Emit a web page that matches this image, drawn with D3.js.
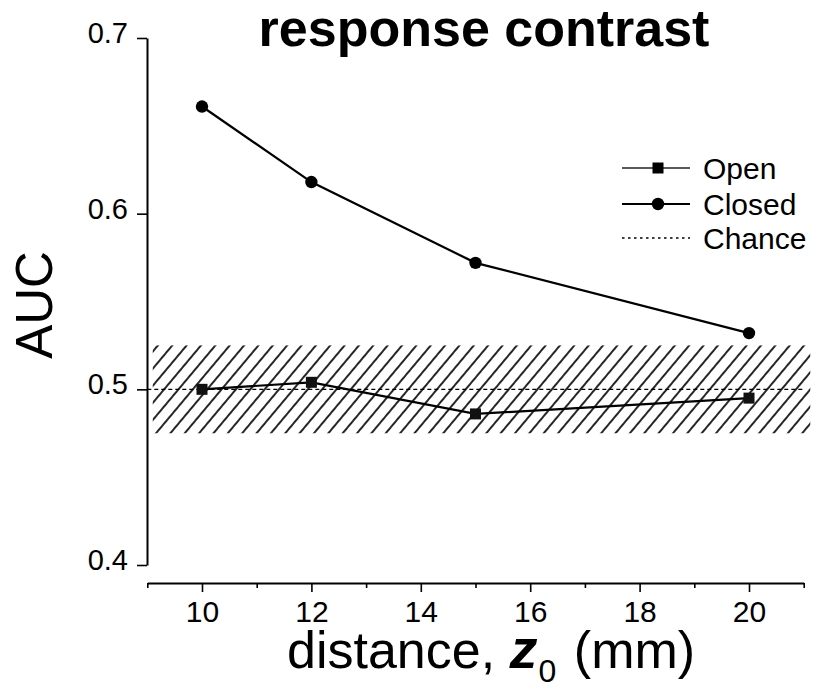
<!DOCTYPE html>
<html>
<head>
<meta charset="utf-8">
<script src="https://cdn.jsdelivr.net/npm/d3@7"></script>
<style>
  html, body { margin: 0; padding: 0; background: #fff; }
  svg { display: block; }
  text { font-family: "Liberation Sans", Arial, Helvetica, sans-serif; fill: #000; }
</style>
</head>
<body>
<svg id="chart" width="813" height="690"></svg>
<script>
// Source distance z0 (mm)
const distances = [10, 12, 15, 20];
// Area under ROC curve for each condition
const openAUC = [0.500, 0.504, 0.486, 0.495];
const closedAUC = [0.661, 0.618, 0.572, 0.532];
// Chance level and its confidence band
const chanceLevel = 0.5;
const chanceBand = [0.475, 0.525];
const chanceBandX = [9.1, 21.12];

const xMajorTicks = [10, 12, 14, 16, 18, 20];
const xMinorTicks = [9, 11, 13, 15, 17, 19, 21];
const yTicks = [0.4, 0.5, 0.6, 0.7];

const legendItems = ["Open", "Closed", "Chance"];

const svg = d3.select("#chart");

const x = d3.scaleLinear().domain([9, 21]).range([147.3, 803.7]);
const y = d3.scaleLinear().domain([0.4, 0.7]).range([565, 38]);
const xAxisY = 583;
const yAxisX = 147;

// Hatch pattern for the chance band
const defs = svg.append("defs");
const pat = defs.append("pattern")
  .attr("id", "hatch")
  .attr("patternUnits", "userSpaceOnUse")
  .attr("width", 11)
  .attr("height", 11)
  .attr("patternTransform", "rotate(40)");
pat.append("line")
  .attr("x1", 2).attr("y1", -1).attr("x2", 2).attr("y2", 12)
  .attr("stroke", "#000").attr("stroke-width", 1.7);

svg.append("rect")
  .attr("x", x(chanceBandX[0]))
  .attr("y", y(chanceBand[1]))
  .attr("width", x(chanceBandX[1]) - x(chanceBandX[0]))
  .attr("height", y(chanceBand[0]) - y(chanceBand[1]))
  .attr("fill", "url(#hatch)");

// Chance line
svg.append("line")
  .attr("x1", x(9)).attr("x2", x(21))
  .attr("y1", y(chanceLevel)).attr("y2", y(chanceLevel))
  .attr("stroke", "#000").attr("stroke-width", 1.4)
  .attr("stroke-dasharray", "4,3");

// Y axis
const yAxis = d3.axisLeft(y)
  .tickValues(yTicks)
  .tickFormat(d3.format(".1f"))
  .tickSize(10)
  .tickSizeOuter(0)
  .tickPadding(9);
const gy = svg.append("g")
  .attr("transform", `translate(${yAxisX},0)`)
  .call(yAxis);
gy.select(".domain").attr("stroke-width", 2);
gy.selectAll(".tick line").attr("stroke-width", 1.6);
gy.selectAll(".tick text")
  .attr("font-size", 29)
  .attr("dy", "0.16em")
  .style("font-family", "'Liberation Sans', Arial, sans-serif");

// X axis: minor ticks (no labels), then major ticks with labels
const xMinor = d3.axisBottom(x)
  .tickValues(xMinorTicks)
  .tickSize(5)
  .tickSizeOuter(0);
const gxm = svg.append("g")
  .attr("transform", `translate(0,${xAxisY})`)
  .call(xMinor);
gxm.selectAll(".tick text").remove();
gxm.select(".domain").attr("stroke-width", 2);
gxm.selectAll(".tick line").attr("stroke-width", 1.6);

const xMajor = d3.axisBottom(x)
  .tickValues(xMajorTicks)
  .tickSize(9)
  .tickSizeOuter(0)
  .tickPadding(9)
  .tickFormat(d3.format("d"));
const gx = svg.append("g")
  .attr("transform", `translate(0,${xAxisY})`)
  .call(xMajor);
gx.select(".domain").remove();
gx.selectAll(".tick line").attr("stroke-width", 1.6);
gx.selectAll(".tick text")
  .attr("font-size", 30)
  .style("font-family", "'Liberation Sans', Arial, sans-serif");

// Series lines
const line = d3.line().x(d => x(d[0])).y(d => y(d[1]));
const openPts = distances.map((d, i) => [d, openAUC[i]]);
const closedPts = distances.map((d, i) => [d, closedAUC[i]]);

svg.append("path").datum(openPts)
  .attr("d", line).attr("fill", "none")
  .attr("stroke", "#000").attr("stroke-width", 2.2);
svg.append("path").datum(closedPts)
  .attr("d", line).attr("fill", "none")
  .attr("stroke", "#000").attr("stroke-width", 2.2);

// Markers
const sq = 11;
svg.selectAll(".open-pt").data(openPts).enter().append("rect")
  .attr("class", "open-pt")
  .attr("x", d => x(d[0]) - sq / 2)
  .attr("y", d => y(d[1]) - sq / 2)
  .attr("width", sq).attr("height", sq)
  .attr("fill", "#111");
svg.selectAll(".closed-pt").data(closedPts).enter().append("circle")
  .attr("class", "closed-pt")
  .attr("cx", d => x(d[0]))
  .attr("cy", d => y(d[1]))
  .attr("r", 6.2)
  .attr("fill", "#000");

// Legend
const legY = [168, 204, 238];
const lx1 = 622, lx2 = 690, lmid = 658;
const leg = svg.append("g");
// Open
leg.append("line").attr("x1", lx1).attr("x2", lx2).attr("y1", legY[0]).attr("y2", legY[0])
  .attr("stroke", "#222").attr("stroke-width", 1.7);
leg.append("rect").attr("x", lmid - 5.5).attr("y", legY[0] - 5.5).attr("width", 11).attr("height", 11)
  .attr("fill", "#000");
// Closed
leg.append("line").attr("x1", lx1).attr("x2", lx2).attr("y1", legY[1]).attr("y2", legY[1])
  .attr("stroke", "#000").attr("stroke-width", 2.2);
leg.append("circle").attr("cx", lmid).attr("cy", legY[1]).attr("r", 6.2).attr("fill", "#000");
// Chance
leg.append("line").attr("x1", lx1).attr("x2", lx2).attr("y1", legY[2]).attr("y2", legY[2])
  .attr("stroke", "#000").attr("stroke-width", 1.4).attr("stroke-dasharray", "2.5,3.5");
leg.selectAll(".leg-text").data(legendItems).enter().append("text")
  .attr("class", "leg-text")
  .attr("x", 703)
  .attr("y", (d, i) => legY[i] + 10.5)
  .attr("font-size", 30)
  .text(d => d);

// Title
svg.append("text")
  .attr("x", 484).attr("y", 46)
  .attr("text-anchor", "middle")
  .attr("font-size", 52)
  .attr("font-weight", "bold")
  .text("response contrast");

// Y axis title
svg.append("text")
  .attr("transform", "translate(52,305) rotate(-90)")
  .attr("text-anchor", "middle")
  .attr("font-size", 51)
  .text("AUC");

// X axis title with bold italic z and subscript 0
const xt = svg.append("text")
  .attr("x", 287).attr("y", 668)
  .attr("font-size", 52);
xt.append("tspan").text("distance, ");
xt.append("tspan").attr("font-weight", "bold").attr("font-style", "italic")
  .attr("font-size", 56).text("z");
xt.append("tspan").attr("font-size", 32).attr("dx", 1).attr("dy", 14).text("0");
xt.append("tspan").attr("dx", 3).attr("dy", -14).text(" (mm)");
</script>
</body>
</html>
